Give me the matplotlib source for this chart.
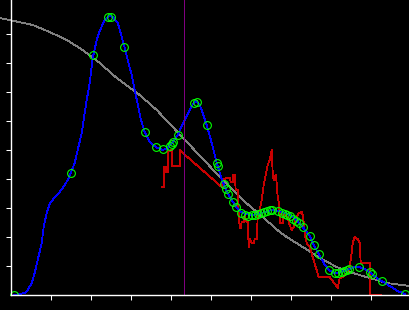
import matplotlib
matplotlib.use("Agg")
import matplotlib.pyplot as plt

# smooth curve (blue)
curve_x = [3, 9, 14, 17, 21, 24, 27, 31, 33, 36, 39, 44, 49, 54, 57, 60, 64, 67, 71, 74,
           76, 79, 82, 86, 89, 93, 96, 99, 102, 107, 110, 114, 117, 121, 124, 127, 130, 134, 139, 145,
           152, 157, 162, 167, 172, 176, 180, 183, 186, 189, 192, 196, 201, 206, 212, 215, 219, 223, 227, 232,
           239, 247, 254, 261, 267, 272, 279, 286, 292, 299, 303, 308, 313, 318, 324, 331, 338, 344, 348, 354,
           359, 365, 371, 379, 387, 394]
curve_y = [0, 1, 2, 5, 12, 22, 35, 52, 68, 82, 91, 98, 103, 110, 115, 122, 132, 145, 162, 182,
           195, 212, 237, 255, 264, 273, 277, 279, 278, 272, 262, 247, 235, 220, 205, 191, 176, 163, 153, 148,
           145, 147, 153, 160, 171, 179, 187, 192, 194, 190, 182, 170, 152, 132, 113, 106, 98, 92, 86, 82,
           80, 81, 83, 85, 84, 83, 80, 75, 68, 59, 50, 41, 32, 25, 22, 23, 26, 28, 28, 26,
           23, 18, 14, 9, 4, 1]

# sample points (green circles)
pts_x = [3, 60, 82, 97, 100, 113, 134, 145, 152, 159, 161, 162, 167, 183, 186, 196, 206, 207, 213, 215,
         217, 222, 225, 230, 234, 237, 241, 244, 247, 250, 253, 256, 259, 261, 267, 271, 274, 276, 279, 282,
         285, 288, 292, 299, 303, 308, 318, 324, 327, 331, 333, 336, 338, 348, 359, 361, 371, 394]
pts_y = [0, 122, 240, 278, 278, 248, 163, 148, 146, 149, 151, 153, 160, 192, 193, 170, 132, 129, 111, 106,
         101, 93, 88, 82, 80, 79, 80, 80, 81, 82, 83, 84, 85, 85, 84, 82, 81, 80, 79, 76,
         74, 72, 68, 59, 50, 41, 25, 22, 22, 23, 24, 25, 26, 28, 23, 21, 14, 1]

# raw signal (red)
raw_x = [151, 153, 153, 155, 155, 157, 157, 161, 161, 169, 169, 171, 211, 211, 216, 219, 220, 222, 222, 224,
         225, 227, 227, 228, 229, 230, 231, 233, 234, 236, 237, 238, 239, 241, 243, 244, 246, 247, 249, 251,
         253, 255, 257, 259, 261, 262, 263, 265, 266, 267, 268, 269, 269, 272, 272, 275, 277, 279, 281, 283,
         285, 288, 291, 292, 294, 295, 297, 299, 308, 319, 327, 329, 332, 337, 339, 341, 342, 344, 347, 349,
         350, 352, 359, 359, 370]
raw_y = [108, 108, 128, 128, 123, 123, 143, 145, 129, 129, 145, 143, 108, 115, 117, 117, 113, 113, 120, 120,
         105, 105, 95, 82, 67, 67, 73, 73, 80, 73, 73, 48, 56, 52, 52, 56, 56, 78, 85, 95,
         110, 120, 130, 135, 145, 122, 115, 120, 112, 98, 93, 82, 72, 72, 80, 80, 77, 70, 65, 68,
         75, 82, 83, 80, 65, 55, 50, 48, 18, 18, 7, 17, 18, 22, 28, 42, 52, 58, 56, 52,
         32, 32, 32, 0, 0]

# reference curve (gray)
ref_x = [-11, -1, 22, 39, 56, 72, 89, 106, 122, 129, 146, 162, 179, 196, 212, 232, 252, 269, 276, 292,
         309, 326, 342, 359, 376, 399]
ref_y = [277, 275, 270, 263, 255, 245, 232, 217, 205, 200, 185, 168, 150, 132, 115, 95, 78, 63, 58, 48,
         37, 28, 22, 17, 12, 9]

marker_x = 173.3

fig = plt.figure(figsize=(4.1, 3.1), dpi=100, facecolor='black')
ax = fig.add_axes([0, 15 / 310, 1, 295 / 310])
ax.set_facecolor('black')

lw = 0.6
ax.plot(ref_x, ref_y, color='#808080', lw=lw, antialiased=False)
ax.plot(raw_x, raw_y, color='#c80000', lw=lw, antialiased=False)
ax.plot(curve_x, curve_y, color='#0000ff', lw=lw, antialiased=False)
ax.plot(pts_x, pts_y, ls='none', marker='o', ms=5.6, mfc='none', mec='#00ff00', mew=0.8)
ax.axvline(marker_x, color='#800080', lw=lw, antialiased=False)

ax.set_xlim(-10.7, 399.3)
ax.set_ylim(0, 295)
ax.set_xticks(range(40, 400, 40))
ax.set_yticks(range(29, 290, 29))
ax.set_xticklabels([])
ax.set_yticklabels([])
ax.tick_params(colors='white', length=3.5, width=0.75)

ax.spines['top'].set_visible(False)
ax.spines['right'].set_visible(False)
ax.spines['left'].set_position(('data', 0))
ax.spines['bottom'].set_bounds(0, 399.3)
for s in ('left', 'bottom'):
    ax.spines[s].set_color('white')
    ax.spines[s].set_linewidth(1.0)

plt.savefig('out.png', dpi=100, facecolor='black')
